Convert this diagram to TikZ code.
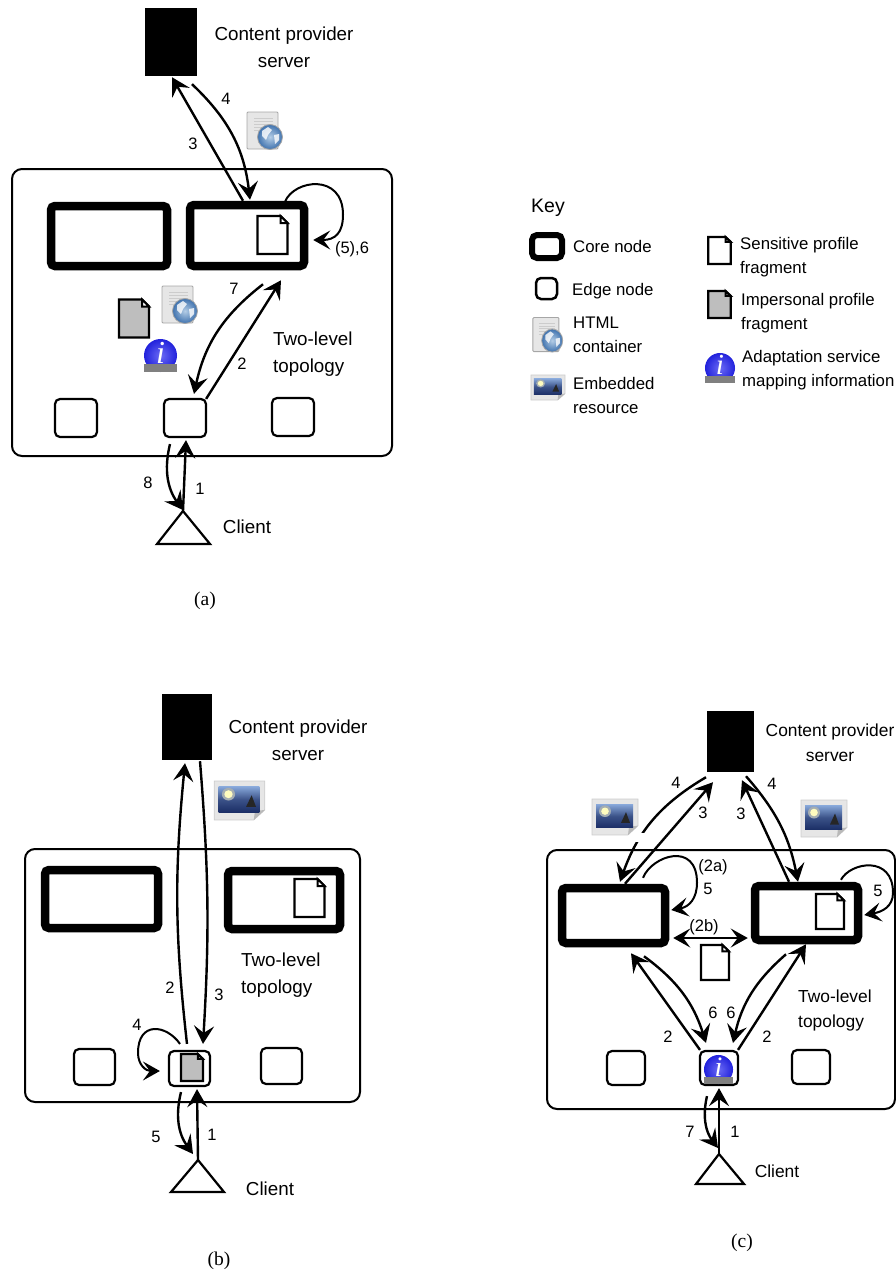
\documentclass[tikz,border=0pt]{standalone}
\usepackage{fontspec}
\setmainfont{Liberation Sans}
\newfontfamily\capfont{Liberation Serif}
\usetikzlibrary{
    arrows.meta,
    positioning,
    calc
}
\definecolor{skyblue}{HTML}{86A6D8}
\definecolor{seanavy}{HTML}{1B2E66}
\definecolor{framegray}{HTML}{E6E6E6}
\definecolor{papergray}{HTML}{E6E6E6}
\definecolor{fragmentgray}{HTML}{BEBEBE}
\definecolor{globelight}{HTML}{B4CDE6}
\definecolor{globedark}{HTML}{3F72AE}
\definecolor{infolight}{HTML}{6A6AF4}
\definecolor{infoblue}{HTML}{2222DC}
\tikzset{
    % --- Outer box of the two-level topology ---
    topology/.style = {
        rectangle, draw, line width=2pt,
        rounded corners=10pt, inner sep=0pt
    },
    % --- Server (solid block) ---
    server/.style = {
        rectangle, fill=black, inner sep=0pt
    },
    % --- Core node (very heavy outline) ---
    core node/.style = {
        rectangle, draw, line width=8.5pt,
        rounded corners=4pt, inner sep=0pt
    },
    % --- Edge node ---
    edge node/.style = {
        rectangle, draw, line width=2.2pt,
        rounded corners=5pt, inner sep=0pt,
        minimum width=41pt, minimum height=36pt
    },
    % --- Client triangle ---
    client/.style = {
        line width=2.2pt, line join=miter
    },
    % --- Message arrow ---
    msg/.style = {
        -{Stealth[length=18pt,width=20pt,inset=7pt]}, line width=2.4pt
    },
    % --- Thinner arrow for the local loops ---
    loop msg/.style = {
        -{Stealth[length=17pt,width=19pt,inset=7pt]}, line width=2pt
    },
    % --- Text beside a server or topology ---
    lab/.style = {
        font=\fontsize{18.8}{27}\selectfont, align=center, inner sep=0pt
    },
    % --- Same text, in the smaller drawing ---
    small lab/.style = {
        lab, font=\fontsize{17.4}{25}\selectfont
    },
    % --- Text in the key ---
    keylab/.style = {
        font=\fontsize{16.8}{24}\selectfont, align=left, anchor=west, inner sep=0pt
    },
    % --- Step number on an arrow ---
    num/.style = {
        font=\fontsize{16.5}{18}\selectfont, inner sep=0pt
    },
    % --- Sub-figure caption ---
    caption/.style = {
        font=\capfont\fontsize{19.5}{20}\selectfont, inner sep=0pt
    },
    % --- Profile fragment (fill colour as value) ---
    pics/docfrag/.style = {
        code = {
            \draw[line width=2.2pt, fill=#1, line join=miter]
                (-15,-19) -- (8,-19) -- (15,-12) -- (15,19) -- (-15,19) -- cycle;
            \draw[line width=2pt, fill=white, line join=miter] (8,-19) -- (15,-12) -- (8,-12) -- cycle;
        }
    },
    % --- HTML container icon ---
    pics/htmlicon/.style = {
        code = {
            \draw[gray!70, line width=0.9pt, fill=papergray, rounded corners=1pt]
                (-18,-19) rectangle (13,18);
            \foreach \yy in {-13,-10,-7,-4,-1} {
                \draw[gray!40, line width=0.6pt] (-11,\yy) -- (8,\yy);
            }
            \shade[inner color=globelight, outer color=globedark, draw=gray!70, line width=0.8pt] (5,6) circle (12.5);
            \fill[white, opacity=0.8] (-3,0) -- (3,-4) -- (7,-1) -- (3,4) -- (1,9) -- (-3,5) -- cycle;
            \fill[white, opacity=0.8] (9,4) -- (14,3) -- (14,9) -- (10,13) -- cycle;
        }
    },
    % --- Embedded resource icon ---
    pics/imgicon/.style = {
        code = {
            \draw[gray!40, line width=0.7pt, fill=framegray]
                (-23,-18.5) -- (23,-18.5) -- (23,9) -- (13,18.5) -- (-23,18.5) -- cycle;
            \fill[gray!55] (23,9) -- (14,10) -- (13,18.5) -- cycle;
            \shade[top color=skyblue, bottom color=seanavy, middle color=seanavy!70!skyblue]
                (-19,-13) rectangle (18,11);
            \fill[yellow!15!skyblue] (-10,-6) circle (6);
            \fill[yellow!25] (-10,-6) circle (3.8);
            \fill[black!85] (6,6) -- (11,-5) -- (15,6) -- cycle;
        }
    },
    % --- Adaptation service information icon ---
    pics/infoicon/.style = {
        code = {
            \shade[inner color=infolight, outer color=infoblue] (0,0) circle (16.5);
            \node[transform shape, text=white, inner sep=0pt,
                font=\capfont\itshape\fontsize{32}{32}\selectfont] at (0,-3) {i};
            \fill[gray] (-16.5,8.5) rectangle (16.5,16.5);
        }
    }
}

\begin{document}
\begin{tikzpicture}[x=1pt, y=-1pt]
\useasboundingbox (0,0) rectangle (895,1274);

% ---------------------------------------------------------
% (a) Two-level topology with HTML container
% ---------------------------------------------------------
\node[topology, minimum width=380pt, minimum height=287pt] (topoA) at (202,312.5) {};
\node[server, minimum width=52pt, minimum height=68pt] (srvA) at (171,42) {};
\node[lab] (srvLabA) at (284,47.5) {Content provider\\server};
\node[core node, minimum width=116pt, minimum height=60pt] (coreA1) at (109,236) {};
\node[core node, minimum width=114pt, minimum height=61pt] (coreA2) at (247,235.5) {};
\node[edge node, minimum width=42pt, minimum height=38pt] (edgeA1) at (76,418) {};
\node[edge node, minimum width=42pt, minimum height=38pt] (edgeA2) at (185,418) {};
\node[edge node, minimum width=42pt, minimum height=38pt] (edgeA3) at (293,417) {};
\node[lab, align=left, anchor=west] (topoLabA) at (273,354) {Two-level\\topology};
\coordinate (cliA) at (183,511);
\draw[client] (cliA) -- (157,544) -- (210,544) -- cycle;
\node[lab] (cliLabA) at (247,527) {Client};

\pic at (272.5,235) {docfrag=white};
\pic at (134,318.5) {docfrag=fragmentgray};
\pic at (265,131) {htmlicon};
\pic at (180,305) {htmlicon};
\pic at (160.5,355.5) {infoicon};

\draw[msg] ($(coreA2.north)+(-4,0)$) -- ($(srvA.south)+(1,1)$);
\draw[msg] ($(srvA.south)+(21,8)$) to[bend left=20] ($(coreA2.north)+(3,-1)$);
\draw[loop msg] ($(coreA2.north)+(38,1)$)
    to[out=68, in=90, out distance=24pt, in distance=42pt] ++(58,13)
    to[out=-90, in=0, out distance=18pt, in distance=22pt] ($(coreA2.east)+(5,4.5)$);
\draw[msg] ($(coreA2.south)+(16,14)$) to[bend right=20] ($(edgeA2.north)+(9,-4)$);
\draw[msg] ($(edgeA2.north east)+(-1,1)$) -- ($(coreA2.south)+(34,10)$);
\draw[msg] (cliA) -- ($(edgeA2.south)+(1,2)$);
\draw[msg] ($(edgeA2.south)+(-15,6)$) to[bend right=25] ($(cliA)+(0,-1)$);

\foreach \xx/\yy/\txt [count=\i] in {226/99/4, 193/144/3, 352/249/{(5),6}, 234/289/7,
    242/364/2, 148/483/8, 200/489/1} {
    \node[num] (numA\i) at (\xx,\yy) {\txt};
}
\node[caption] (capA) at (205,601) {(a)};

% ---------------------------------------------------------
% Key
% ---------------------------------------------------------
\node[keylab, font=\fontsize{19.5}{24}\selectfont] (keyTitle) at (531,208) {Key};
\node[core node, line width=6pt, rounded corners=5pt, minimum width=30pt, minimum height=23pt] (keyCore) at (547,246.5) {};
\node[keylab] (keyCoreLab) at (573,246) {Core node};
\node[edge node, line width=2.5pt, minimum width=21pt, minimum height=21pt] (keyEdge) at (546.5,288.5) {};
\node[keylab] (keyEdgeLab) at (572,291) {Edge node};
\pic[xscale=0.84, yscale=0.92] at (548,335) {htmlicon};
\node[keylab] (keyHtmlLab) at (573,335) {HTML\\container};
\pic[xscale=0.74, yscale=0.68] at (548,387.5) {imgicon};
\node[keylab] (keyImgLab) at (573,395.5) {Embedded\\resource};
\pic[xscale=0.75, yscale=0.71] at (719.5,250.5) {docfrag=white};
\node[keylab] (keySensLab) at (740,257) {Sensitive profile\\fragment};
\pic[xscale=0.75, yscale=0.71] at (719.5,304.5) {docfrag=fragmentgray};
\node[keylab] (keyImpLab) at (741,313) {Impersonal profile\\fragment};
\pic[scale=0.91] at (720,368) {infoicon};
\node[keylab] (keyInfoLab) at (742,370) {Adaptation service\\mapping information};

% ---------------------------------------------------------
% (b) Two-level topology with embedded resource
% ---------------------------------------------------------
\node[topology, minimum width=335pt, minimum height=253pt] (topoB) at (192.5,975.5) {};
\node[server, minimum width=50pt, minimum height=66pt] (srvB) at (187,727) {};
\node[lab] (srvLabB) at (298,740) {Content provider\\server};
\node[core node, minimum width=113pt, minimum height=58pt] (coreB1) at (101.5,899) {};
\node[core node, minimum width=112pt, minimum height=58pt] (coreB2) at (284,900) {};
\node[edge node] (edgeB1) at (94.5,1067) {};
\node[edge node, minimum height=35pt] (edgeB2) at (189.5,1068.5) {};
\node[edge node] (edgeB3) at (281.5,1066) {};
\node[lab, align=left, anchor=west] (topoLabB) at (241,975.5) {Two-level\\topology};
\coordinate (cliB) at (198,1160);
\draw[client] (cliB) -- (171,1192) -- (224,1192) -- cycle;
\node[lab] (cliLabB) at (270,1189) {Client};

\pic at (309.5,898) {docfrag=white};
\pic[xscale=0.73, yscale=0.71] at (192,1067.5) {docfrag=fragmentgray};
\pic[xscale=1.1, yscale=1.05] at (239.5,800.5) {imgicon};

\draw[msg] ($(edgeB2.north)+(-2.5,-6)$) to[bend left=6] ($(srvB.south)+(-2,3)$);
\draw[msg] ($(srvB.south)+(13,1)$) to[bend left=4] ($(edgeB2.north)+(13.5,-6)$);
\draw[loop msg] ($(edgeB2.north)+(-9.5,-6)$)
    to[out=125, in=90, out distance=24pt, in distance=32pt] ++(-42,9)
    to[out=-90, in=180, out distance=12pt, in distance=14pt] ($(edgeB2.west)+(-8,2.5)$);
\draw[msg] ($(edgeB2.south)+(-8.5,5)$) to[bend right=25] ($(cliB)+(-5,-6)$);
\draw[msg] (cliB) -- ($(edgeB2.south)+(7.5,2)$);

\foreach \xx/\yy/\txt [count=\i] in {170/988/2, 219/995/3, 137/1025/4, 156/1137/5, 212/1135/1} {
    \node[num] (numB\i) at (\xx,\yy) {\txt};
}
\node[caption] (capB) at (219,1261) {(b)};

% ---------------------------------------------------------
% (c) Two-level topology with cooperating core nodes
% ---------------------------------------------------------
\node[topology, minimum width=348pt, minimum height=259pt] (topoC) at (721,979.5) {};
\node[server, minimum width=47pt, minimum height=61pt] (srvC) at (730.5,741.5) {};
\node[small lab] (srvLabC) at (830,742.5) {Content provider\\server};
\node[core node, minimum width=103pt, minimum height=55pt] (coreC1) at (613.5,915.5) {};
\node[core node, minimum width=103pt, minimum height=54pt] (coreC2) at (806.5,913) {};
\node[edge node, minimum width=38pt, minimum height=34pt] (edgeC1) at (626,1068) {};
\node[edge node, minimum width=38pt, minimum height=34pt] (edgeC2) at (719,1068) {};
\node[edge node, minimum width=38pt, minimum height=34pt] (edgeC3) at (811,1067) {};
\node[small lab, align=left, anchor=west] (topoLabC) at (798,1010) {Two-level\\topology};
\coordinate (cliC) at (719,1154);
\draw[client] (cliC) -- (696,1184) -- (744,1184) -- cycle;
\node[small lab] (cliLabC) at (777,1171) {Client};

\pic[xscale=0.93, yscale=0.92] at (830,911.5) {docfrag=white};
\pic[xscale=0.93, yscale=0.92] at (715,962.5) {docfrag=white};
\pic[scale=0.88] at (718.5,1069.5) {infoicon};
\pic[yscale=0.97] at (615,817) {imgicon};
\pic at (824,818.5) {imgicon};

\draw[msg] ($(coreC1.north)+(11.5,0)$) -- ($(srvC.south)+(-17.5,10)$);
\draw[msg] ($(srvC.south)+(-24.5,5)$) to[bend right=20] ($(coreC1.north)+(6.5,-2)$);
% gap in the arrow beside the icon
\fill[white] (632,833) rectangle (646,842);
\draw[msg] ($(coreC2.north)+(-17.5,0)$) -- ($(srvC.south)+(11.5,8)$);
\draw[msg] ($(srvC.south)+(15.5,4)$) to[bend left=15] ($(coreC2.north)+(-8.5,0)$);
\draw[loop msg] ($(coreC1.north)+(29.5,-6)$)
    to[out=68, in=90, out distance=24pt, in distance=42pt] ++(54,5)
    to[out=-90, in=10, out distance=16pt, in distance=18pt] ($(coreC1.east)+(2,-5.5)$);
\draw[loop msg] ($(coreC2.north)+(34.5,-2)$)
    to[out=62, in=90, out distance=20pt, in distance=38pt] ++(52,13)
    to[out=-90, in=10, out distance=14pt, in distance=18pt] ($(coreC2.east)+(2,2)$);
\draw[{Stealth[length=17pt,width=19pt,inset=7pt]}-{Stealth[length=17pt,width=19pt,inset=7pt]}, line width=1.8pt]
    ($(coreC1.east)+(4,22.5)$) -- ($(coreC2.west)+(-3,25)$);
\draw[msg] ($(edgeC2.north)+(-19,0)$) -- ($(coreC1.south)+(17.5,6)$);
\draw[msg] ($(coreC1.south)+(30.5,9)$) to[bend left=18] ($(edgeC2.north)+(-13,-7)$);
\draw[msg] ($(coreC2.south)+(-20.5,10)$) to[bend right=18] ($(edgeC2.north)+(14,-7)$);
\draw[msg] ($(edgeC2.north)+(19,0)$) -- ($(coreC2.south)+(-0.5,0)$);
\draw[msg] (cliC) -- ($(edgeC2.south)+(0,2)$);
\draw[msg] ($(edgeC2.south)+(-12,10)$) to[bend right=25] ($(cliC)+(-1,-6)$);

\foreach \xx/\yy/\txt [count=\i] in {676/783/4, 703/813/3, 741/814/3, 772/784/4, 713/867/{(2a)},
    708/889/5, 878/891/5, 704/927/{(2b)}, 713/1013/6, 731/1013/6, 668/1037/2, 767/1037/2,
    690/1132/7, 735/1132/1} {
    \node[num] (numC\i) at (\xx,\yy) {\txt};
}
\node[caption] (capC) at (742,1243) {(c)};

\end{tikzpicture}
\end{document}
